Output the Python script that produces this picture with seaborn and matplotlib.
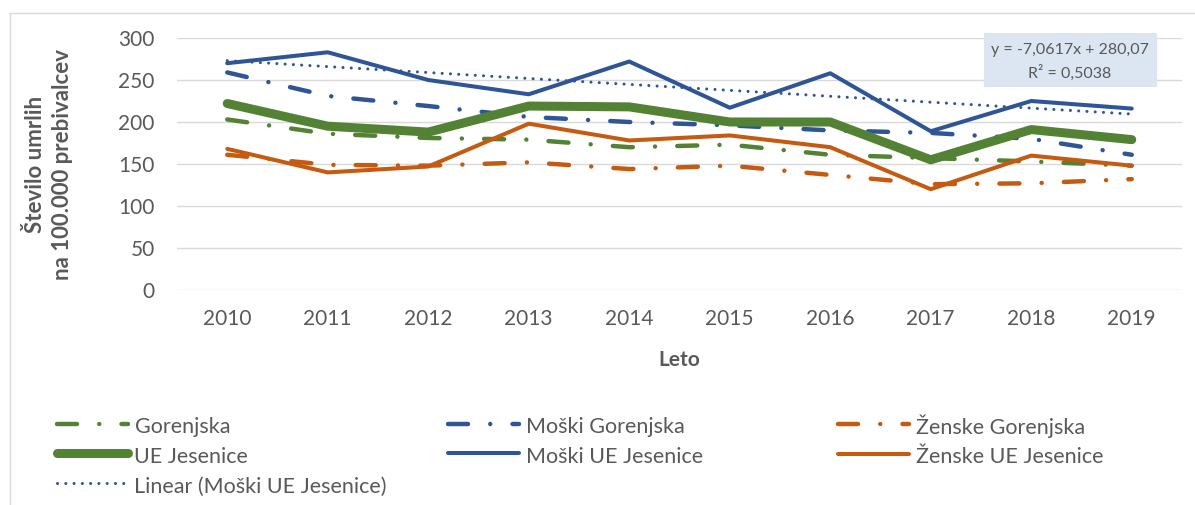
import matplotlib
matplotlib.use('Agg')
import matplotlib.pyplot as plt
from matplotlib.lines import Line2D
from matplotlib.patches import Rectangle
import seaborn as sns
import numpy as np

# Data
years = list(range(2010, 2020))
gorenjska = [203, 186, 181, 179, 170, 173, 161, 157, 153, 148]
moski_gorenjska = [259, 231, 219, 206, 200, 196, 190, 187, 180, 161]
zenske_gorenjska = [161, 149, 148, 152, 144, 148, 137, 126, 127, 132]
ue_jesenice = [222, 195, 188, 219, 218, 200, 200, 155, 191, 179]
moski_ue = [270, 283, 250, 233, 272, 217, 258, 189, 225, 216]
zenske_ue = [168, 140, 147, 198, 178, 184, 170, 120, 160, 148]
trend_slope = -7.0617
trend_intercept = 280.07
trend_text = 'y = -7,0617x + 280,07\nR² = 0,5038'

GREEN = '#548235'
BLUE = '#2F5597'
ORANGE = '#C55A11'
GREY = '#595959'
W, H = 1195, 505

sns.set_theme(style='white')
plt.rcParams['font.family'] = ['Lato', 'DejaVu Sans']
plt.rcParams['text.color'] = GREY

fig = plt.figure(figsize=(W / 100, H / 100), dpi=100)
ax = fig.add_axes([177 / W, 1 - 290 / H, 1005 / W, 252 / H])

dashdot = (0, (4.5, 5, 0.01, 5))
series = [
    (gorenjska, 'Gorenjska', GREEN, 3.2, dashdot),
    (moski_gorenjska, 'Moški Gorenjska', BLUE, 3.2, dashdot),
    (zenske_gorenjska, 'Ženske Gorenjska', ORANGE, 3.2, dashdot),
    (ue_jesenice, 'UE Jesenice', GREEN, 6.5, '-'),
    (moski_ue, 'Moški UE Jesenice', BLUE, 2.9, '-'),
    (zenske_ue, 'Ženske UE Jesenice', ORANGE, 2.9, '-'),
]
for vals, lab, col, lw, ls in series:
    sns.lineplot(x=years, y=vals, color=col, lw=lw, ls=ls, label=lab,
                 solid_capstyle='round', dash_capstyle='round',
                 legend=False, ax=ax)

# Linear trend of Moški UE Jesenice (x = 1..10 as in Excel)
trend = trend_intercept + trend_slope * np.arange(1, len(years) + 1)
sns.lineplot(x=years, y=trend, color=BLUE, lw=2.2, ls=(0, (0.01, 2.7)),
             dash_capstyle='round', label='Linear (Moški UE Jesenice)',
             legend=False, ax=ax)

# Axes styling
ax.set_xlim(2009.5, 2019.5)
ax.set_ylim(0, 300)
ax.set_xticks(years)
ax.set_yticks(range(0, 301, 50))
ax.grid(axis='y', color='#D9D9D9', lw=1)
ax.grid(axis='x', visible=False)
ax.set_axisbelow(True)
sns.despine(ax=ax, left=True, bottom=True)
ax.tick_params(axis='y', length=0, pad=16, labelsize=15, labelcolor=GREY)
ax.tick_params(axis='x', length=0, pad=14, labelsize=15, labelcolor=GREY)
ax.set_xlabel('Leto', fontsize=15, fontweight='bold', color=GREY,
              labelpad=15)
ax.set_ylabel('Število umrlih\nna 100.000 prebivalcev', fontsize=16,
              fontweight='bold', color=GREY, va='center', linespacing=1.3)
ax.yaxis.set_label_coords(-128 / 1005, 0.5)

# Trendline label box
fig.add_artist(Rectangle((984 / W, 1 - 87 / H), 173 / W, 54 / H,
                         transform=fig.transFigure, facecolor='#DCE6F2',
                         edgecolor='none'))
fig.text(1070 / W, 1 - 62 / H, trend_text, ha='center', va='center',
         fontsize=11.5, color=GREY, linespacing=1.55)

# Legend in three columns; a tall handle box keeps rows level
handles, labels = ax.get_legend_handles_labels()
lookup = dict(zip(labels, handles))
columns = [
    (['Gorenjska', 'UE Jesenice', 'Linear (Moški UE Jesenice)'], 57),
    (['Moški Gorenjska', 'Moški UE Jesenice'], 448),
    (['Ženske Gorenjska', 'Ženske UE Jesenice'], 838),
]
for labs, x0 in columns:
    leg = fig.legend([lookup[l] for l in labs], labs, loc='upper left',
                     bbox_to_anchor=(x0 / W, 1 - 414 / H), frameon=False,
                     fontsize=15.5, handlelength=3.3, handleheight=1.35,
                     handletextpad=0.3, labelspacing=0.26,
                     borderpad=0, borderaxespad=0)
    for t in leg.get_texts():
        t.set_color(GREY)

# Chart area border (partly cropped in the reference)
fig.add_artist(Line2D([10 / W, 10 / W], [0, 1 - 13 / H],
                      transform=fig.transFigure, color='#D9D9D9', lw=1))
fig.add_artist(Line2D([10 / W, 1], [1 - 13 / H, 1 - 13 / H],
                      transform=fig.transFigure, color='#D9D9D9', lw=1))

fig.savefig('out.png', dpi=100)
